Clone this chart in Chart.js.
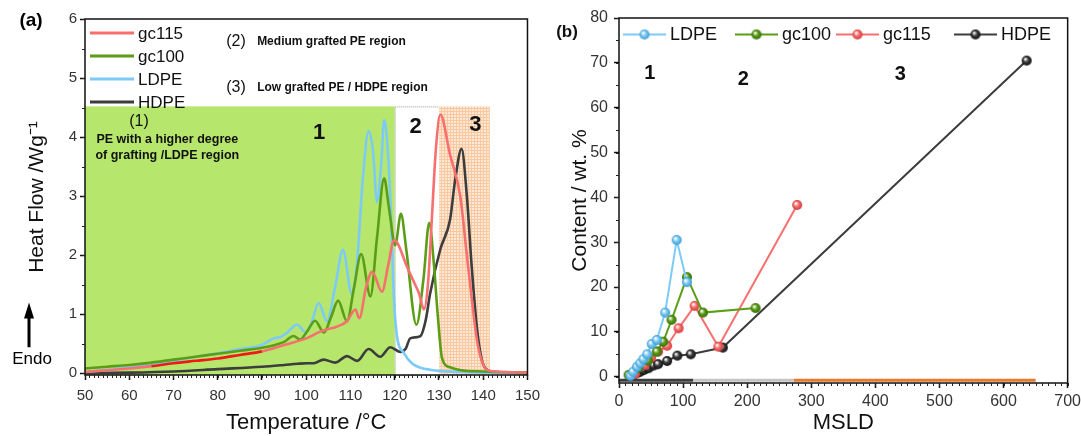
<!DOCTYPE html>
<html lang="en">
<head>
<meta charset="UTF-8">
<title>DSC heat flow and MSLD content</title>
<script src="https://cdn.jsdelivr.net/npm/chart.js"></script>
<style>
    body { margin: 0; background: #fff; }
    #wrap { position: relative; width: 1081px; height: 436px; }
    #chartA { position: absolute; left: 0; top: 0; }
    #chartB { position: absolute; left: 540px; top: 0; }
</style>
</head>
<body>
<div id="wrap">
    <canvas id="chartA" width="540" height="436"></canvas>
    <canvas id="chartB" width="541" height="436"></canvas>
</div>
<script>
// ---- panel (a): DSC curves, temperature (°C) vs heat flow (W/g) ----
const gc115T  = [50, 55, 60, 65, 70, 75, 80, 85, 90, 95, 100, 103, 105, 106.6, 109.2, 111.1, 112, 113.5, 114.9, 117.1, 118.6, 119.8, 120.5, 122.8, 124.3, 125.5, 126.6, 127.5, 128.3, 129.3, 130.3, 132.5, 134.8, 136.3, 137.5, 138.5, 139.5, 141, 145, 150];
const gc115HF = [0.02, 0.05, 0.08, 0.12, 0.17, 0.21, 0.25, 0.31, 0.37, 0.48, 0.59, 0.70, 0.75, 0.78, 0.88, 1.08, 0.93, 1.45, 1.72, 1.38, 1.86, 2.25, 2.22, 1.80, 1.55, 1.35, 1.08, 1.50, 2.50, 3.80, 4.38, 3.70, 3.00, 2.00, 1.20, 0.60, 0.25, 0.05, 0.02, 0.01];

const gc100T  = [50, 55, 60, 65, 70, 75, 80, 85, 90, 93, 95, 97.1, 98.6, 100.3, 102, 104, 105.6, 107.2, 109.2, 110.8, 112.4, 114.5, 116, 117.6, 118.7, 120.1, 121.4, 122.6, 124.9, 126.5, 127.8, 128.9, 129.7, 130.7, 132.5, 135, 140, 150];
const gc100HF = [0.08, 0.11, 0.14, 0.18, 0.23, 0.28, 0.33, 0.38, 0.43, 0.48, 0.53, 0.63, 0.57, 0.72, 0.89, 0.69, 0.95, 1.23, 0.88, 1.45, 2.02, 1.30, 2.30, 3.30, 2.80, 2.17, 2.70, 2.10, 0.82, 1.60, 2.55, 1.80, 1.00, 0.25, 0.10, 0.05, 0.03, 0.01];

const ldpeT  = [50, 55, 60, 65, 70, 75, 80, 85, 90, 92.6, 94.1, 95.6, 97.9, 100, 101.3, 102.8, 104.7, 106.5, 108.3, 110.3, 111.5, 112.8, 114.1, 115.1, 116, 117, 117.6, 118.5, 119.2, 119.8, 120.5, 122, 124, 126, 128, 130, 135, 140, 150];
const ldpeHF = [0.02, 0.06, 0.10, 0.15, 0.21, 0.28, 0.34, 0.41, 0.48, 0.59, 0.61, 0.68, 0.82, 0.69, 0.88, 1.19, 0.88, 1.45, 2.09, 1.34, 1.90, 3.30, 4.10, 3.75, 2.90, 3.60, 4.29, 3.70, 2.60, 1.30, 0.63, 0.35, 0.16, 0.09, 0.06, 0.04, 0.02, 0.01, 0.0];

const hdpeT  = [50, 60, 70, 80, 90, 95, 98, 100.2, 101.7, 103.9, 106.6, 109.2, 111.5, 114.1, 116.7, 119, 121.3, 122.5, 123.5, 125.8, 127, 128, 130.3, 132.5, 133.7, 135.1, 136.3, 137.4, 138.6, 139.7, 141, 143, 150];
const hdpeHF = [0.0, 0.01, 0.03, 0.07, 0.11, 0.14, 0.16, 0.17, 0.17, 0.23, 0.18, 0.29, 0.21, 0.41, 0.28, 0.44, 0.36, 0.42, 0.59, 0.63, 0.90, 1.35, 2.10, 2.60, 3.30, 3.80, 3.00, 1.80, 0.75, 0.22, 0.05, 0.02, 0.0];

// temperature windows of regions 1, 2, 3
const regionT = [50, 120, 130, 141.5];

// ---- panel (b): content (wt. %) vs MSLD ----
const ldpeMSLD    = [18, 22, 28, 33, 38, 44, 51, 59, 72, 90, 106];
const ldpeContent = [0.2, 1.1, 2.2, 3.0, 3.9, 5.0, 7.3, 8.2, 14.3, 30.5, 21.1];

const gc100MSLD    = [15, 30, 45, 59, 69, 82, 106, 131, 213];
const gc100Content = [0.4, 1.9, 3.6, 5.6, 7.8, 12.7, 22.2, 14.3, 15.3];

const gc115MSLD    = [25, 40, 50, 61, 75, 93, 118, 155, 278];
const gc115Content = [0.6, 2.6, 4.2, 5.6, 6.9, 10.8, 15.8, 6.7, 38.3];

const hdpeMSLD    = [22, 28, 33, 39, 46, 54, 61, 75, 91, 112, 162, 636];
const hdpeContent = [0.4, 0.8, 1.1, 1.5, 1.9, 2.5, 2.8, 3.5, 4.7, 5.0, 6.5, 70.5];

// MSLD ranges of regions 1, 2, 3 (bar under the axis)
const regionMSLD = [0, 116, 273, 650];

const FONT = "'Liberation Sans', Arial, sans-serif";
Chart.defaults.font.family = FONT;
Chart.defaults.color = '#333';
Chart.defaults.animation = false;

const pts = (xs, ys) => xs.map((x, i) => ({ x: x, y: ys[i] }));

function ballImage(color, edge, r) {
    const size = 2 * r + 2;
    const c = document.createElement('canvas');
    c.width = size; c.height = size;
    const g = c.getContext('2d');
    const m = size / 2;
    const grad = g.createRadialGradient(m - r * 0.3, m - r * 0.35, r * 0.1, m, m, r);
    grad.addColorStop(0, '#ffffff');
    grad.addColorStop(0.45, color);
    grad.addColorStop(1, edge);
    g.fillStyle = grad;
    g.beginPath(); g.arc(m, m, r, 0, Math.PI * 2); g.fill();
    return c;
}

// box round the plot area
const framePlugin = {
    id: 'frame',
    afterDatasetsDraw(chart) {
        const a = chart.chartArea, ctx = chart.ctx;
        ctx.save();
        ctx.strokeStyle = '#111';
        ctx.lineWidth = 1.5;
        ctx.strokeRect(a.left, a.top, a.right - a.left, a.bottom - a.top);
        ctx.restore();
    }
};

// minor ticks, Chart.js has none
const minorTicksPlugin = {
    id: 'minorTicks',
    afterDraw(chart, args, opts) {
        const ctx = chart.ctx, a = chart.chartArea;
        ctx.save();
        ctx.strokeStyle = '#222';
        ctx.lineWidth = 1;
        ctx.beginPath();
        for (const m of opts.axes) {
            const sc = chart.scales[m.id];
            for (let v = Math.ceil(sc.min / m.step) * m.step; v <= sc.max + 1e-9; v += m.step) {
                const p = Math.round(sc.getPixelForValue(v)) + 0.5;
                if (sc.isHorizontal()) {
                    ctx.moveTo(p, a.bottom); ctx.lineTo(p, a.bottom + m.len);
                } else {
                    ctx.moveTo(a.left, p); ctx.lineTo(a.left - m.len, p);
                }
            }
        }
        ctx.stroke();
        ctx.restore();
    }
};

// free text placed in data coordinates
const textPlugin = {
    id: 'texts',
    afterDatasetsDraw(chart, args, opts) {
        const ctx = chart.ctx, xs = chart.scales.x, ys = chart.scales.y;
        ctx.save();
        ctx.textBaseline = 'middle';
        for (const t of opts.items) {
            ctx.font = t.font + ' ' + FONT;
            ctx.fillStyle = t.color || '#111';
            ctx.textAlign = t.align || 'center';
            ctx.fillText(t.text, xs.getPixelForValue(t.x), ys.getPixelForValue(t.y));
        }
        ctx.restore();
    }
};

// ---------------- chart (a) ----------------
const regionsPlugin = {
    id: 'regions',
    beforeDatasetsDraw(chart) {
        const ctx = chart.ctx, xs = chart.scales.x, ys = chart.scales.y;
        const x = regionT.map(v => xs.getPixelForValue(v));
        const yTop = ys.getPixelForValue(4.52), yBot = ys.getPixelForValue(ys.min);
        ctx.save();
        ctx.fillStyle = '#b7e66d';
        ctx.fillRect(x[0], yTop, x[1] - x[0], yBot - yTop);
        // region 2, white with dotted border
        ctx.strokeStyle = '#9a9a9a';
        ctx.lineWidth = 1;
        ctx.setLineDash([1, 1]);
        ctx.strokeRect(x[1] + 0.5, yTop + 0.5, x[2] - x[1], yBot - yTop);
        ctx.setLineDash([]);
        // region 3, peach grid
        const tile = document.createElement('canvas');
        tile.width = 3; tile.height = 3;
        const g = tile.getContext('2d');
        g.fillStyle = '#fde8d6'; g.fillRect(0, 0, 3, 3);
        g.fillStyle = '#f8c8a0'; g.fillRect(0, 0, 3, 1); g.fillRect(0, 0, 1, 3);
        ctx.fillStyle = ctx.createPattern(tile, 'repeat');
        ctx.fillRect(x[2], yTop, x[3] - x[2], yBot - yTop);
        ctx.restore();
    }
};

const legendAPlugin = {
    id: 'legendA',
    afterDraw(chart) {
        const ctx = chart.ctx, a = chart.chartArea;
        ctx.save();
        ctx.font = '17px ' + FONT;
        ctx.textBaseline = 'middle';
        ctx.fillStyle = '#111';
        chart.data.datasets.forEach((ds, i) => {
            const y = a.top + 14 + i * 23;
            ctx.strokeStyle = ds.borderColor;
            ctx.lineWidth = 3;
            ctx.beginPath(); ctx.moveTo(a.left + 5, y); ctx.lineTo(a.left + 49, y); ctx.stroke();
            ctx.fillText(ds.label, a.left + 53, y + 1);
        });
        ctx.restore();
    }
};

const endoPlugin = {
    id: 'endo',
    afterDraw(chart) {
        const ctx = chart.ctx, a = chart.chartArea, ys = chart.scales.y;
        const x = a.left - 56;
        const y0 = ys.getPixelForValue(0.44), y1 = ys.getPixelForValue(1.2);
        ctx.save();
        ctx.fillStyle = '#000';
        ctx.strokeStyle = '#000';
        ctx.lineWidth = 3;
        ctx.beginPath(); ctx.moveTo(x, y0); ctx.lineTo(x, y1 + 12); ctx.stroke();
        ctx.beginPath(); ctx.moveTo(x - 5, y1 + 16); ctx.lineTo(x + 5, y1 + 16); ctx.lineTo(x, y1); ctx.closePath(); ctx.fill();
        ctx.font = '17px ' + FONT;
        ctx.textAlign = 'center';
        ctx.textBaseline = 'middle';
        ctx.fillText('Endo', x + 3, y0 + 12);
        ctx.font = 'bold 19px ' + FONT;
        ctx.fillText('(a)', 31, 21);
        ctx.restore();
    }
};

function dscSet(label, xs, ys, color) {
    return {
        label: label,
        data: pts(xs, ys),
        borderColor: color,
        borderWidth: 2.6,
        pointRadius: 0,
        cubicInterpolationMode: 'monotone',
        fill: false
    };
}

const gc115Set = dscSet('gc115', gc115T, gc115HF, '#f76f6f');
// the brighter red stretch of the gc115 curve
gc115Set.segment = {
    borderColor: c => (c.p0.parsed.x >= 65 && c.p1.parsed.x <= 90) ? '#f01818' : undefined
};

new Chart(document.getElementById('chartA'), {
    type: 'line',
    data: {
        datasets: [
            gc115Set,
            dscSet('gc100', gc100T, gc100HF, '#5b9e16'),
            dscSet('LDPE', ldpeT, ldpeHF, '#7ccaf6'),
            dscSet('HDPE', hdpeT, hdpeHF, '#3d3d3d')
        ]
    },
    options: {
        responsive: false,
        layout: { padding: { top: 19, right: 6, left: 0, bottom: 0 } },
        plugins: {
            legend: { display: false },
            tooltip: { enabled: false },
            minorTicks: { axes: [{ id: 'x', step: 1, len: 3 }, { id: 'y', step: 0.5, len: 3 }] },
            texts: {
                items: [
                    { x: 81.9, y: 5.61, text: '(2)', font: '16px', align: 'left' },
                    { x: 88.9, y: 5.61, text: 'Medium grafted PE region', font: 'bold 12px', align: 'left' },
                    { x: 81.9, y: 4.83, text: '(3)', font: '16px', align: 'left' },
                    { x: 88.9, y: 4.83, text: 'Low grafted PE / HDPE region', font: 'bold 12px', align: 'left' },
                    { x: 62.2, y: 4.27, text: '(1)', font: '16px' },
                    { x: 68.6, y: 3.95, text: 'PE with a higher degree', font: 'bold 12.5px' },
                    { x: 68.6, y: 3.68, text: 'of grafting /LDPE region', font: 'bold 12.5px' },
                    { x: 102.9, y: 4.07, text: '1', font: 'bold 22px' },
                    { x: 124.7, y: 4.17, text: '2', font: 'bold 22px' },
                    { x: 138.2, y: 4.2, text: '3', font: 'bold 22px' }
                ]
            }
        },
        scales: {
            x: {
                type: 'linear',
                min: 50, max: 150,
                afterFit: s => { s.height = 61; },
                // padding 0 keeps the right edge at 150; the taller line box pushes labels down instead
                ticks: { stepSize: 10, font: { size: 15, lineHeight: 2.13 }, color: '#333', padding: 0 },
                grid: { display: true, drawOnChartArea: false, tickLength: 5, tickColor: '#111', tickWidth: 1.5 },
                border: { display: false },
                title: { display: true, text: 'Temperature /°C', font: { size: 22 }, color: '#111', padding: { top: 0, bottom: 0 } }
            },
            y: {
                min: -0.03, max: 6,
                afterFit: s => { s.width = 85; },
                ticks: { stepSize: 1, includeBounds: false, font: { size: 15 }, color: '#333', padding: 3 },
                grid: { display: true, drawOnChartArea: false, tickLength: 5, tickColor: '#111', tickWidth: 1.5 },
                border: { display: false },
                title: { display: true, text: 'Heat Flow /Wg⁻¹', font: { size: 21 }, color: '#111', padding: { top: 25, bottom: 0 } }
            }
        }
    },
    plugins: [regionsPlugin, framePlugin, minorTicksPlugin, textPlugin, legendAPlugin, endoPlugin]
});

// ---------------- chart (b) ----------------
const legendBPlugin = {
    id: 'legendB',
    afterDraw(chart) {
        const ctx = chart.ctx, a = chart.chartArea;
        const offsets = [4, 116, 217, 335];
        const y = a.top + 16.5;
        ctx.save();
        ctx.font = '18px ' + FONT;
        ctx.textBaseline = 'middle';
        ctx.fillStyle = '#111';
        chart.data.datasets.filter(ds => ds.label).forEach((ds, i) => {
            const x0 = a.left + offsets[i];
            ctx.strokeStyle = ds.borderColor;
            ctx.lineWidth = 1.8;
            ctx.beginPath(); ctx.moveTo(x0, y); ctx.lineTo(x0 + 43, y); ctx.stroke();
            const img = ds.pointStyle;
            ctx.drawImage(img, x0 + 21.5 - img.width / 2, y - img.height / 2);
            ctx.fillText(ds.label, x0 + 47, y + 1);
        });
        ctx.font = 'bold 17px ' + FONT;
        ctx.textAlign = 'center';
        ctx.fillText('(b)', 27, 32);
        ctx.restore();
    }
};

function mslSet(label, xs, ys, color, edge) {
    return {
        label: label,
        data: pts(xs, ys),
        showLine: true,
        borderColor: color,
        borderWidth: 2,
        pointStyle: ballImage(color, edge, 5),
        pointRadius: 5
    };
}

const barColors = ['#3d3d3d', '#c4c4c4', '#e67a28'];

new Chart(document.getElementById('chartB'), {
    type: 'scatter',
    data: {
        datasets: [
            mslSet('LDPE', ldpeMSLD, ldpeContent, '#7ccaf6', '#3f9bd0'),
            mslSet('gc100', gc100MSLD, gc100Content, '#5b9e16', '#356b05'),
            mslSet('gc115', gc115MSLD, gc115Content, '#f76f6f', '#cf3a3a'),
            mslSet('HDPE', hdpeMSLD, hdpeContent, '#3d3d3d', '#111111'),
            {
                label: '',
                data: regionMSLD.map(v => ({ x: v, y: -0.8 })),
                showLine: true,
                borderWidth: 3,
                borderColor: barColors[0],
                pointRadius: 0,
                segment: { borderColor: c => barColors[c.p0DataIndex] }
            }
        ]
    },
    options: {
        responsive: false,
        layout: { padding: { top: 18, right: 10, left: 0, bottom: 0 } },
        plugins: {
            legend: { display: false },
            tooltip: { enabled: false },
            minorTicks: { axes: [{ id: 'x', step: 10, len: 3 }, { id: 'y', step: 5, len: 3 }] },
            texts: {
                items: [
                    { x: 48, y: 67.6, text: '1', font: 'bold 20px' },
                    { x: 194, y: 66.2, text: '2', font: 'bold 20px' },
                    { x: 439, y: 67.3, text: '3', font: 'bold 20px' }
                ]
            }
        },
        scales: {
            x: {
                type: 'linear',
                min: 0, max: 700,
                afterFit: s => { s.height = 53; },
                ticks: { stepSize: 100, font: { size: 16, lineHeight: 1.7 }, color: '#333', padding: 0 },
                grid: { display: true, drawOnChartArea: false, tickLength: 5, tickColor: '#111', tickWidth: 1.5 },
                border: { display: false },
                title: { display: true, text: 'MSLD', font: { size: 22 }, color: '#111', padding: { top: 0, bottom: 0 } }
            },
            y: {
                min: -1.4, max: 80,
                afterFit: s => { s.width = 79; },
                ticks: { stepSize: 10, includeBounds: false, font: { size: 16 }, color: '#333', padding: 6 },
                grid: { display: true, drawOnChartArea: false, tickLength: 5, tickColor: '#111', tickWidth: 1.5 },
                border: { display: false },
                title: { display: true, text: 'Content / wt. %', font: { size: 21 }, color: '#111', padding: { top: 28, bottom: 0 } }
            }
        }
    },
    plugins: [framePlugin, minorTicksPlugin, textPlugin, legendBPlugin]
});
</script>
</body>
</html>
